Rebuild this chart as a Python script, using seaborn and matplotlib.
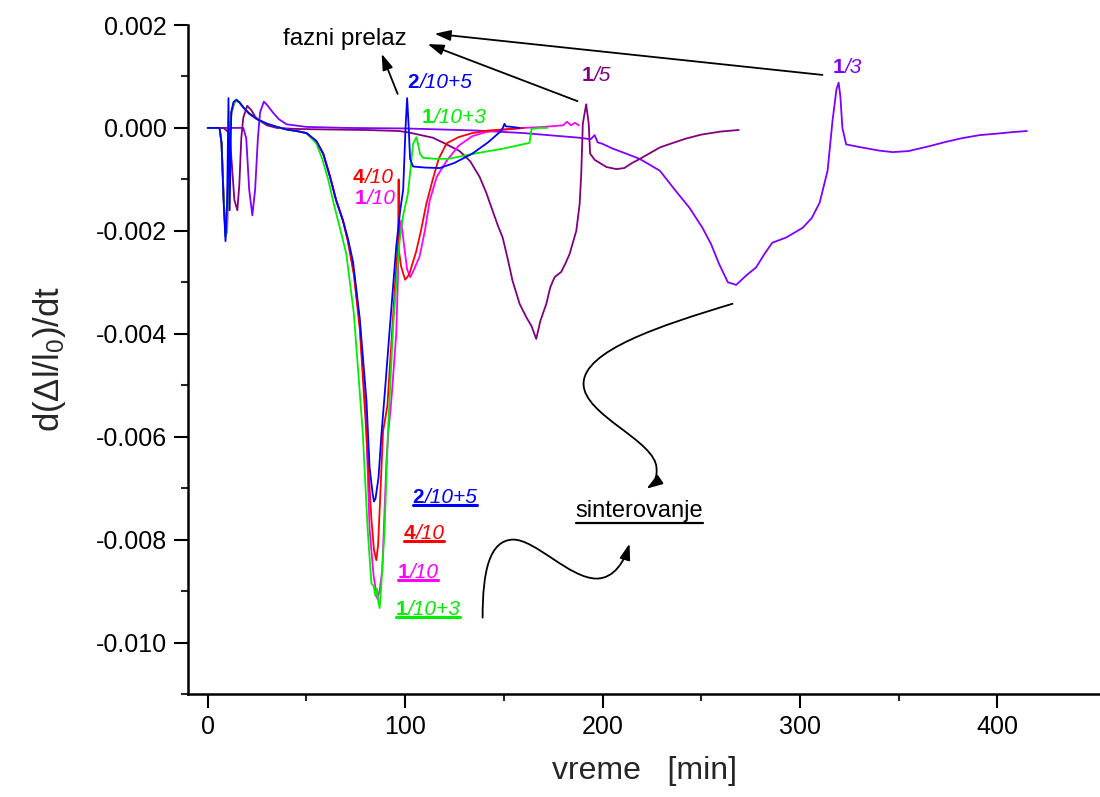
import numpy as np
import pandas as pd
import matplotlib
matplotlib.use("Agg")
import matplotlib.pyplot as plt
import seaborn as sns
from matplotlib.path import Path
from matplotlib.patches import FancyArrowPatch
from matplotlib.ticker import FixedLocator, FormatStrFormatter
from matplotlib.lines import Line2D
from matplotlib.transforms import IdentityTransform

# ---------------- data (y values in units of 1e-3) ----------------
t_2_10_5 = [0, 6, 7, 8, 9, 9.8, 10.5, 11.1, 11.9, 13, 14.5, 16, 18, 21, 25, 30, 35, 40, 45, 50,
            55, 58.5, 62, 65, 68.5, 71, 73.6, 77, 80.4, 82, 83.5, 84.2, 85, 86.5, 88, 90, 92, 95.5, 97.5, 99,
            100.2, 101, 101.7, 102.5, 104, 110, 117.5, 125, 134, 142, 148, 149.5, 150.3, 151, 154, 158]
y_2_10_5 = [0, 0, -0.3, -1.4, -2.2, -1.5, 0.58, -1.6, 0.3, 0.5, 0.55, 0.5, 0.4, 0.28, 0.17, 0.08, 0.02, -0.03, -0.06, -0.1,
            -0.25, -0.5, -0.96, -1.4, -1.8, -2.15, -2.6, -3.7, -5.3, -6.6, -7.1, -7.26, -7.2, -6.8, -5.95, -5.0, -4.0, -2.3, -1.6, -1.2,
            0.0, 0.58, 0.1, -0.6, -0.75, -0.77, -0.78, -0.68, -0.5, -0.28, -0.08, 0.0, 0.08, 0.03, 0.02, 0.0]

t_1_10_3 = [0, 6, 7, 8, 9, 9.8, 10.5, 12, 13.5, 14.5, 16, 18, 21, 25, 30, 35, 40, 45, 50, 55,
            58, 61, 64, 67, 70.2, 74, 78.5, 81, 82.9, 84, 85, 85.7, 86.4, 87.1, 87.9, 89.6, 91.3, 94, 97.2, 99,
            101.4, 103, 104, 105.7, 106.5, 107.5, 109, 115, 122, 135, 150, 163, 164, 168, 172]
y_1_10_3 = [0, 0, -0.3, -1.3, -2.1, -2.0, -0.5, 0.3, 0.5, 0.53, 0.5, 0.4, 0.28, 0.17, 0.08, 0.02, -0.03, -0.06, -0.1, -0.3,
            -0.6, -1.0, -1.5, -1.95, -2.45, -3.6, -5.9, -7.8, -8.85, -8.9, -9.1, -8.95, -9.2, -9.33, -8.9, -7.8, -5.9, -3.8, -2.2, -1.7,
            -1.28, -0.7, -0.31, -0.18, -0.3, -0.5, -0.58, -0.6, -0.6, -0.5, -0.4, -0.29, -0.02, 0.0, 0.0]

t_4_10 = [0, 6, 7, 8, 9, 9.8, 10.5, 12, 13.5, 14.5, 16, 18, 21, 25, 30, 35, 40, 45, 50, 55,
          58.5, 62, 65, 68.5, 71, 74, 77, 80.3, 82.9, 84.2, 85.4, 86.3, 87, 88.8, 91, 93, 95.5, 96.5, 96.7, 96.9,
          98, 100, 102, 105.6, 108, 110.7, 114, 117, 121, 127, 134, 142, 150, 160]
y_4_10 = [0, 0, -0.3, -1.3, -2.1, -2.0, -0.5, 0.3, 0.5, 0.53, 0.5, 0.4, 0.28, 0.17, 0.08, 0.02, -0.03, -0.06, -0.1, -0.27,
          -0.5, -0.95, -1.4, -1.8, -2.2, -2.85, -3.9, -5.9, -7.6, -8.2, -8.4, -8.1, -7.5, -5.9, -5.4, -4.2, -2.7, -2.2, -1.0, -2.4,
          -2.7, -2.95, -2.85, -2.4, -2.0, -1.48, -1.0, -0.6, -0.3, -0.18, -0.1, -0.05, -0.03, 0.0]

t_1_10 = [0, 6, 7, 8, 9, 9.8, 10.5, 12, 13.5, 14.5, 16, 18, 21, 25, 30, 35, 40, 45, 50, 55,
          58.5, 62, 65, 68.5, 71, 74, 77, 80, 82, 84, 85.9, 87, 88.4, 90.5, 91.5, 93, 95.5, 96.8, 97.2, 98,
          99.5, 101, 102.6, 104.5, 107.3, 110, 112.4, 116, 121, 127, 134, 141, 148, 160, 170, 180, 182, 184, 186, 188]
y_1_10 = [0, 0, -0.3, -1.3, -2.1, -2.0, -0.5, 0.3, 0.5, 0.53, 0.5, 0.4, 0.28, 0.17, 0.08, 0.02, -0.03, -0.06, -0.1, -0.26,
          -0.5, -0.95, -1.4, -1.8, -2.2, -2.8, -3.8, -5.5, -7.8, -8.7, -9.15, -9.0, -8.6, -6.5, -5.9, -5.3, -4.0, -2.3, -2.06, -1.8,
          -2.3, -2.75, -2.9, -2.75, -2.5, -2.0, -1.42, -0.95, -0.64, -0.35, -0.16, -0.08, -0.04, 0.0, 0.02, 0.05, 0.12, 0.05, 0.1, 0.05]

t_1_5 = [0, 8, 11, 12, 13.5, 15, 16, 17, 18, 20, 22, 24, 26.3, 30, 35, 45, 60, 80, 97, 102,
         108, 114, 120, 127.6, 133, 137.7, 141, 144.3, 147, 149.4, 152, 154.4, 158, 161.4, 164, 166.4, 168.5, 171.5, 173.5, 175.7,
         179, 181, 183.3, 186.7, 188.4, 189.2, 190, 191.7, 193, 193.7, 196, 202, 207, 211, 215, 219, 229, 235, 242, 250, 260, 269]
y_1_5 = [0, 0, -0.1, -0.6, -1.4, -1.6, -1.1, -0.2, 0.2, 0.43, 0.35, 0.22, 0.14, 0.05, 0.0, -0.02, -0.03, -0.04, -0.06, -0.09,
         -0.14, -0.19, -0.3, -0.45, -0.65, -0.95, -1.25, -1.61, -1.9, -2.13, -2.55, -2.97, -3.42, -3.68, -3.85, -4.1, -3.75, -3.42, -3.1, -2.9,
         -2.8, -2.65, -2.45, -2.0, -1.48, -0.9, 0.08, 0.46, 0.08, -0.5, -0.62, -0.76, -0.8, -0.78, -0.68, -0.6, -0.38, -0.3, -0.21, -0.13, -0.07, -0.04]

t_1_3 = [0, 18, 19.5, 21, 22.6, 24, 25.4, 26.5, 28.4, 30, 33, 36, 40, 50, 70, 100, 136, 160, 188, 194,
         196, 197.5, 200, 205, 212, 218.7, 229, 237, 244, 250.6, 255, 259, 263.5, 267.7, 272.7, 277.8, 282, 286, 293, 301.4,
         306, 310, 314, 316.5, 318.5, 319.6, 320.5, 321.5, 323.4, 330, 340, 347, 355, 365, 374, 382, 391, 400, 408, 415]
y_1_3 = [0, 0, -0.2, -1.2, -1.7, -1.2, -0.2, 0.3, 0.51, 0.45, 0.3, 0.17, 0.07, 0.02, 0.0, -0.01, -0.05, -0.1, -0.19, -0.22,
         -0.14, -0.28, -0.31, -0.4, -0.5, -0.6, -0.83, -1.22, -1.55, -1.94, -2.26, -2.64, -3.0, -3.05, -2.87, -2.71, -2.45, -2.23, -2.13, -1.94,
         -1.75, -1.45, -0.83, 0.14, 0.75, 0.88, 0.6, 0.0, -0.32, -0.37, -0.44, -0.47, -0.45, -0.36, -0.27, -0.2, -0.14, -0.11, -0.08, -0.06]

series_names = ["1/3", "1/5", "1/10", "4/10", "1/10+3", "2/10+5"]
series_t = [t_1_3, t_1_5, t_1_10, t_4_10, t_1_10_3, t_2_10_5]
series_y = [y_1_3, y_1_5, y_1_10, y_4_10, y_1_10_3, y_2_10_5]
series_colors = ["#8000FF", "#800080", "#FF00FF", "#FF0000", "#00EE00", "#0000FF"]

x_ticks = [0, 100, 200, 300, 400]
y_ticks = [-0.010, -0.008, -0.006, -0.004, -0.002, 0.000, 0.002]

# ---------------- style ----------------
sns.set_style("ticks")
plt.rcParams["font.family"] = ["Liberation Sans", "DejaVu Sans"]
plt.rcParams["axes.unicode_minus"] = False
plt.rcParams["mathtext.fontset"] = "custom"
plt.rcParams["mathtext.rm"] = "Liberation Sans"
plt.rcParams["mathtext.it"] = "Liberation Sans:italic"
plt.rcParams["mathtext.bf"] = "Liberation Sans:bold"

fig = plt.figure(figsize=(11, 7.97), dpi=100)
ax = fig.add_axes([188 / 1100, 1 - 694 / 797, (1100 - 188) / 1100, (694 - 25) / 797])

frames = []
for name, t, y in zip(series_names, series_t, series_y):
    frames.append(pd.DataFrame({"t": t, "y": np.array(y) * 1e-3, "s": name}))
df = pd.concat(frames, ignore_index=True)

for name, col in zip(series_names, series_colors):
    sub = df[df["s"] == name]
    sns.lineplot(data=sub, x="t", y="y", color=col, lw=1.3, ax=ax,
                 estimator=None, sort=False, legend=False)

ax.set_xlim(-10, 452)
ax.set_ylim(-0.011, 0.002)
ax.xaxis.set_major_locator(FixedLocator(x_ticks))
ax.xaxis.set_minor_locator(FixedLocator([50, 150, 250, 350]))
ax.yaxis.set_major_locator(FixedLocator(y_ticks))
ax.yaxis.set_minor_locator(FixedLocator([-0.011, -0.009, -0.007, -0.005, -0.003, -0.001, 0.001]))
ax.yaxis.set_major_formatter(FormatStrFormatter("%.3f"))
for s in ["top", "right"]:
    ax.spines[s].set_visible(False)
for s in ["left", "bottom"]:
    ax.spines[s].set_linewidth(1.8)
    ax.spines[s].set_color("black")
ax.tick_params(which="major", direction="out", length=10, width=1.5, labelsize=18, pad=5, colors="black")
ax.tick_params(which="minor", direction="out", length=5, width=1.5)
ax.set_xlabel("vreme   [min]", fontsize=23, labelpad=12)
ax.set_ylabel(r"d($\Delta$l/l$_{\mathrm{0}}$)/dt", fontsize=25, labelpad=20)
ax.set_facecolor("white")
fig.patch.set_facecolor("white")

# ---------------- labels ----------------
def two_part(x, y, bold, rest, color, size=15):
    t1 = ax.text(x, y, bold, color=color, fontsize=size, fontweight="bold", ha="left", va="baseline")
    t2 = ax.annotate(rest, xy=(1, 0), xycoords=t1, color=color, fontsize=size,
                     fontstyle="italic", ha="left", va="bottom")
    return t1, t2

two_part(101.3, 0.00078, "2", "/10+5", "#0000FF")
two_part(108.4, 0.0001, "1", "/10+3", "#00EE00")
two_part(73.4, -0.00107, "4", "/10", "#FF0000")
two_part(74.4, -0.00148, "1", "/10", "#FF00FF")
two_part(189.4, 0.00091, "1", "/5", "#800080")
two_part(316.5, 0.00107, "1", "/3", "#8000FF")

under = []
under.append((two_part(103.8, -0.00728, "2", "/10+5", "#0000FF"), "#0000FF"))
under.append((two_part(99.2, -0.00798, "4", "/10", "#FF0000"), "#FF0000"))
under.append((two_part(96.2, -0.00874, "1", "/10", "#FF00FF"), "#FF00FF"))
under.append((two_part(95.2, -0.00946, "1", "/10+3", "#00EE00"), "#00EE00"))

ax.text(38.0, 0.00161, "fazni prelaz", fontsize=17.5, color="black", ha="left", va="baseline")
sint = ax.text(186.3, -0.00757, "sinterovanje", fontsize=17, color="black", ha="left", va="baseline")

# straight arrows toward "fazni prelaz"
for (tx, ty), (hx, hy) in [((96.2, 0.00066), (88.1, 0.00144)),
                           ((187.3, 0.00052), (111.4, 0.00163)),
                           ((311.4, 0.00103), (114.9, 0.00183))]:
    ax.annotate("", xy=(hx, hy), xytext=(tx, ty),
                arrowprops=dict(arrowstyle="-|>,head_length=0.6,head_width=0.2", mutation_scale=16,
                                lw=1.3, color="black", shrinkA=0, shrinkB=0))

# curved arrows toward "sinterovanje"
C4 = Path.CURVE4
p1 = Path([(265.82, -0.003417), (228.86, -0.003845), (190.38, -0.004330), (190.38, -0.004971),
           (190.38, -0.005592), (227.34, -0.006078), (227.34, -0.006621),
           (227.85, -0.006816), (225.32, -0.006932), (222.28, -0.007010)],
          [Path.MOVETO, C4, C4, C4, C4, C4, C4, C4, C4, C4])
p2 = Path([(139.24, -0.009515), (139.24, -0.008602), (142.78, -0.008019), (154.43, -0.008000),
           (165.57, -0.007981), (183.29, -0.008757), (196.96, -0.008757),
           (206.08, -0.008757), (211.14, -0.008408), (213.67, -0.008078)],
          [Path.MOVETO, C4, C4, C4, C4, C4, C4, C4, C4, C4])
for p in (p1, p2):
    arr = FancyArrowPatch(path=p, arrowstyle="-|>,head_length=0.6,head_width=0.2",
                          mutation_scale=16, lw=1.3, color="black")
    ax.add_patch(arr)

# underlines
fig.canvas.draw()
r = fig.canvas.get_renderer()
for (t1, t2), col in under:
    b1 = t1.get_window_extent(r)
    b2 = t2.get_window_extent(r)
    base = ax.transData.transform(t1.get_position())[1]
    yline = base - 2.5
    fig.add_artist(Line2D([b1.x0, b2.x1], [yline, yline], color=col, lw=2.2,
                          transform=IdentityTransform()))
bs = sint.get_window_extent(r)
base = ax.transData.transform(sint.get_position())[1]
fig.add_artist(Line2D([bs.x0, bs.x1], [base - 6, base - 6], color="black", lw=1.6,
                      transform=IdentityTransform()))

fig.savefig("out.png", dpi=100, facecolor="white")
